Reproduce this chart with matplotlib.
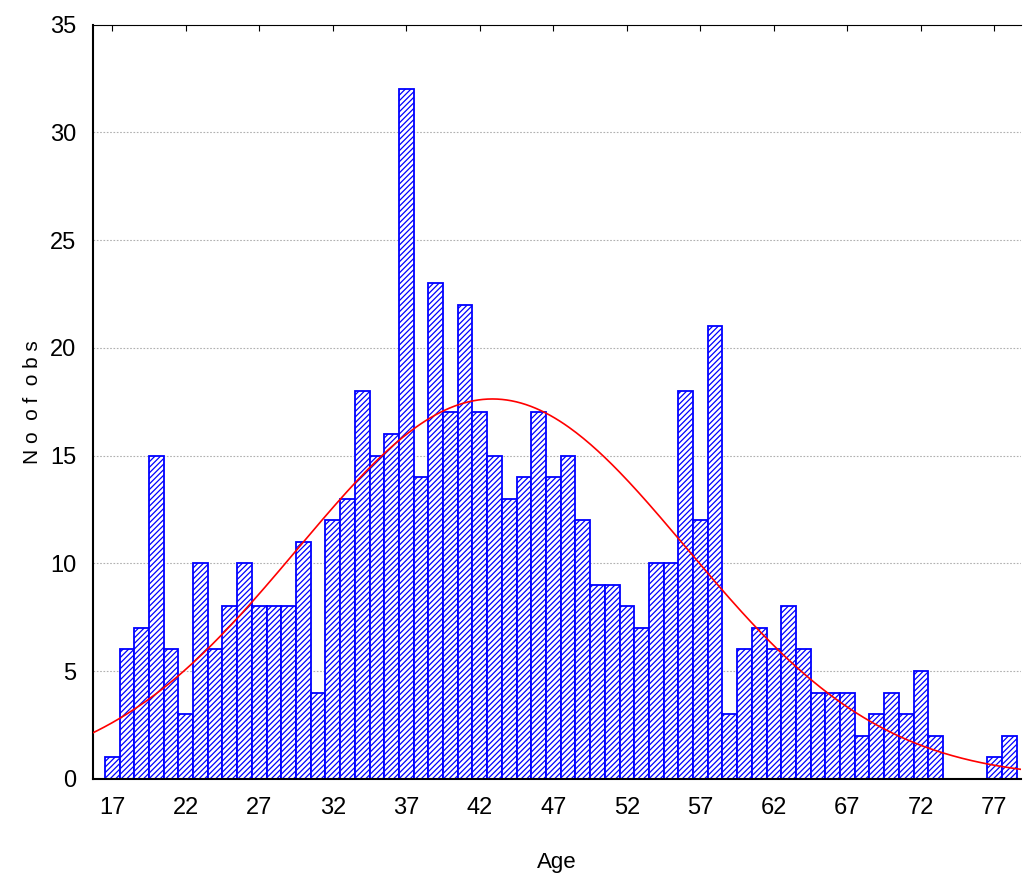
import numpy as np
import matplotlib.pyplot as plt
from matplotlib import rcParams

# Histogram of respondents' age with a fitted normal curve
ages = np.arange(17, 79)
counts = [1, 6, 7, 15, 6, 3, 10, 6, 8, 10,
          8, 8, 8, 11, 4, 12, 13, 18, 15, 16,
          32, 14, 23, 17, 22, 17, 15, 13, 14, 17,
          14, 15, 12, 9, 9, 8, 7, 10, 10, 18,
          12, 21, 3, 6, 7, 6, 8, 6, 4, 4,
          4, 2, 3, 4, 3, 5, 2, 0, 0, 0,
          1, 2]
xticks = list(range(17, 78, 5))
yticks = list(range(0, 36, 5))

rcParams['font.family'] = ['Liberation Sans Narrow', 'Liberation Sans', 'DejaVu Sans']
rcParams['hatch.linewidth'] = 0.9
rcParams['hatch.color'] = 'blue'

counts = np.array(counts)
n = counts.sum()
mean = (ages * counts).sum() / n
sd = np.sqrt(((ages - mean) ** 2 * counts).sum() / (n - 1))

fig = plt.figure(figsize=(10.23, 8.77), dpi=100)
ax = fig.add_axes([0.091, 0.112, 0.907, 0.86])

ax.bar(ages, counts, width=1.0, color='white', edgecolor='blue',
       linewidth=1.3, hatch='//////', zorder=2)

xs = np.linspace(15, 80, 400)
fit = n * np.exp(-0.5 * ((xs - mean) / sd) ** 2) / (sd * np.sqrt(2 * np.pi))
ax.plot(xs, fit, color='red', linewidth=1.2, zorder=3)

ax.set_xlim(15.7, 78.8)
ax.set_ylim(0, 35)
ax.set_xticks(xticks)
ax.set_yticks(yticks)
ax.yaxis.grid(True, linestyle=(0, (1.5, 1.5)), color='#b0b0b0', linewidth=0.8)
ax.set_axisbelow(True)
ax.tick_params(direction='in', length=4, labelsize=17, top=True, right=False)
ax.tick_params(axis='x', pad=13)
ax.tick_params(axis='y', pad=12, length=0)
for s in ['left', 'bottom']:
    ax.spines[s].set_linewidth(1.5)
ax.spines['right'].set_visible(False)

ax.set_xlabel('Age', fontsize=16, labelpad=24)
ax.set_ylabel('N o  o f  o b s', fontsize=15, labelpad=6)

fig.savefig('out.png', dpi=100)
